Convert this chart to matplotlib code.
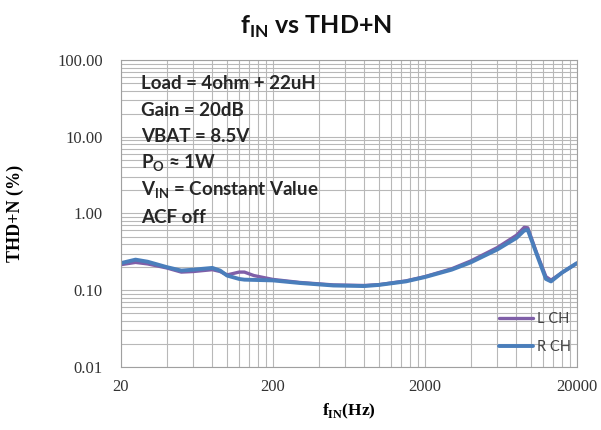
import numpy as np
import matplotlib.pyplot as plt
from matplotlib.ticker import FixedLocator, NullFormatter

# THD+N (%) versus input frequency, both channels
freq = [20, 25, 30, 40, 50, 60, 80, 90, 100, 120, 130, 150, 200, 300, 500,
        800, 1000, 1500, 2000, 3000, 4000, 6000, 8000, 9000, 9500, 10900,
        12500, 13500, 16000, 20000]
thd_l = [0.215, 0.23, 0.22, 0.195, 0.172, 0.175, 0.185, 0.175, 0.158, 0.172,
         0.172, 0.155, 0.138, 0.126, 0.117, 0.115, 0.118, 0.132, 0.150, 0.190,
         0.240, 0.360, 0.52, 0.66, 0.65, 0.30, 0.15, 0.135, 0.17, 0.225]
thd_r = [0.225, 0.25, 0.235, 0.20, 0.180, 0.185, 0.195, 0.180, 0.155, 0.140,
         0.137, 0.136, 0.134, 0.124, 0.115, 0.113, 0.117, 0.130, 0.148, 0.185,
         0.230, 0.340, 0.48, 0.60, 0.61, 0.29, 0.14, 0.13, 0.17, 0.225]

x_ticks = [20, 200, 2000, 20000]
y_ticks = [0.01, 0.1, 1, 10, 100]
notes = ["Load = 4ohm + 22uH", "Gain = 20dB", "VBAT = 8.5V",
         r"P$_\mathregular{O}$ ≈ 1W", r"V$_\mathregular{IN}$ = Constant Value", "ACF off"]

fig = plt.figure(figsize=(6.01, 4.30), dpi=100)
ax = fig.add_axes([0.201, 0.147, 0.759, 0.713])

ax.plot(freq, thd_l, color='#7f5fa8', lw=2.4, label='L CH', solid_capstyle='round')
ax.plot(freq, thd_r, color='#4a7ebb', lw=2.8, label='R CH', solid_capstyle='round')

ax.set_xscale('log')
ax.set_yscale('log')
ax.set_xlim(20, 20000)
ax.set_ylim(0.01, 100)

# grid lines every 20/200/2000 Hz step inside each decade
minor_x = np.concatenate([d * np.arange(1, 10) for d in (20, 200, 2000)])
ax.xaxis.set_major_locator(FixedLocator(x_ticks))
ax.xaxis.set_minor_locator(FixedLocator(minor_x))
ax.xaxis.set_minor_formatter(NullFormatter())
ax.set_xticklabels([str(v) for v in x_ticks])
ax.yaxis.set_major_locator(FixedLocator(y_ticks))
ax.set_yticklabels(['%.2f' % v for v in y_ticks])
ax.yaxis.set_minor_formatter(NullFormatter())

ax.grid(True, which='both', color='#b8b8b8', lw=0.8)
ax.set_axisbelow(True)
ax.tick_params(which='both', length=0, labelsize=12, labelcolor='#333333')
ax.tick_params(axis='y', pad=13)
ax.tick_params(axis='x', pad=9)
for lbl in ax.get_xticklabels() + ax.get_yticklabels():
    lbl.set_family('Liberation Serif')
for s in ax.spines.values():
    s.set_color('#a0a0a0')
    s.set_linewidth(0.8)

ax.set_xlabel(r'f$_\mathregular{IN}$(Hz)', family='Liberation Serif',
              fontweight='bold', fontsize=12.5, labelpad=5)
ax.set_ylabel('THD+N (%)', family='Liberation Serif', fontweight='bold',
              fontsize=13)
ax.yaxis.set_label_coords(-0.212, 0.5)

fig.text(0.526, 0.937, r'f$_\mathregular{IN}$ vs THD+N', ha='center', va='center',
         family='Lato', fontweight='bold', fontsize=18, color='#111111')

for i, t in enumerate(notes):
    ax.text(0.045, 0.925 - i * 0.0875, t, transform=ax.transAxes, va='center',
            ha='left', family='Lato', fontweight='bold', fontsize=13.5,
            color='#262626')

leg = ax.legend(loc='lower right', bbox_to_anchor=(1.016, -0.002), frameon=False,
                handlelength=2.3, handletextpad=0.3, labelspacing=1.0,
                prop={'family': 'Lato', 'size': 10.5})
for t in leg.get_texts():
    t.set_color('#444444')

fig.savefig('out.png', dpi=100)
